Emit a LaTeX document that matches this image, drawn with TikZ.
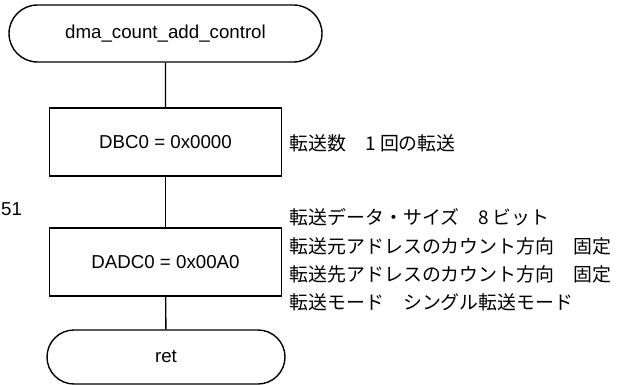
\documentclass[tikz,border=0pt]{standalone}
\usepackage{fontspec}
\setmainfont{Liberation Sans}
\newfontfamily\jp{Noto Sans CJK JP}
\usetikzlibrary{shapes.misc}
\begin{document}
\begin{tikzpicture}[x=1pt,y=-1pt, line width=1.4pt,
  font=\fontsize{18.7}{22}\selectfont,
  term/.style={rounded rectangle, draw, minimum width=313pt, minimum height=57pt, inner sep=0pt},
  proc/.style={rectangle, draw, minimum width=232pt, minimum height=68pt, inner sep=0pt},
  note/.style={anchor=west, inner sep=0pt, font=\fontsize{18.9}{22}\selectfont\jp}]
\useasboundingbox (0,0) rectangle (626,385);
\node[term] (start) at (165.5,33.5) {dma\_count\_add\_control};
\node[proc] (dbc) at (165.5,142) {DBC0 = 0x0000};
\node[proc] (dadc) at (165.5,262) {DADC0 = 0x00A0};
\node[term, minimum width=238pt, minimum height=54pt] (ret) at (166,357) {ret};
\draw (start) -- (dbc);
\draw (dbc) -- (dadc);
\draw (dadc) -- (ret);
\node[note] (n1) at (289,143) {転送数　1 回の転送};
\node[note] (n2) at (289,217) {転送データ・サイズ　8 ビット};
\node[note] (n3) at (289,246) {転送元アドレスのカウント方向　固定};
\node[note] (n4) at (289,274) {転送先アドレスのカウント方向　固定};
\node[note] (n5) at (289,302) {転送モード　シングル転送モード};
\node[anchor=west, inner sep=0pt] (lbl) at (0.5,209) {51};
\end{tikzpicture}
\end{document}
